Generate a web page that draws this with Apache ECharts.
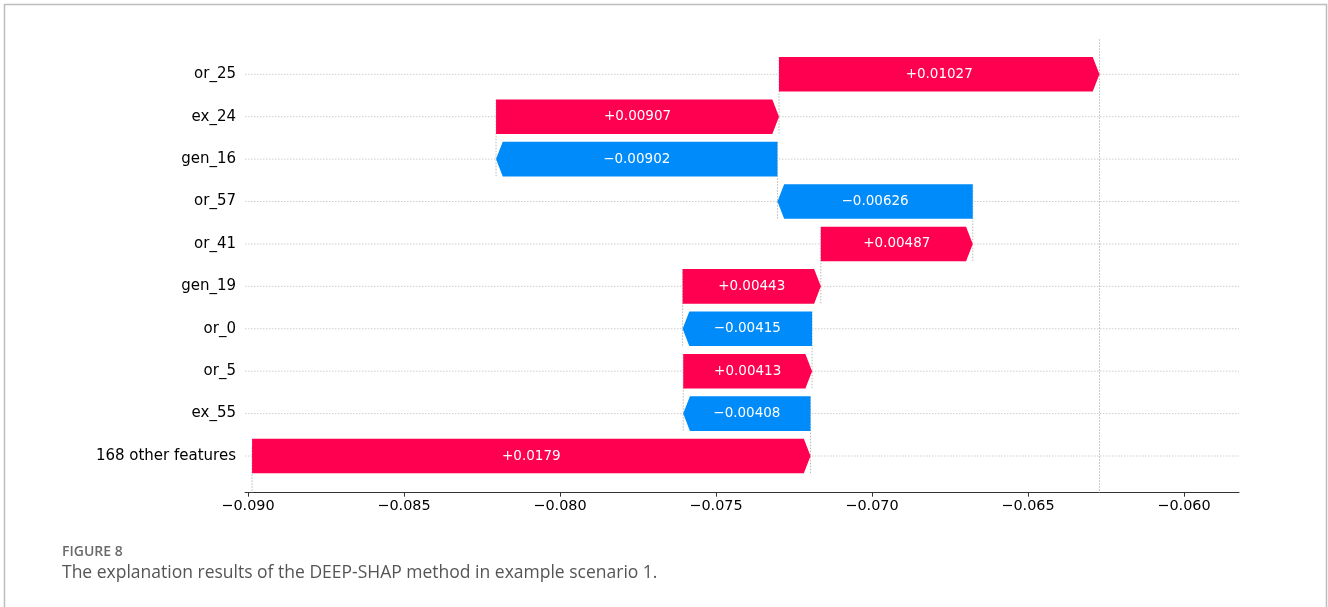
<!DOCTYPE html>
<html>
<head>
<meta charset="utf-8">
<script src="https://cdn.jsdelivr.net/npm/echarts@6/dist/echarts.min.js"></script>
<style>
  html, body { margin: 0; padding: 0; background: #fff; }
  #chart { width: 1328px; height: 607px; }
</style>
</head>
<body>
<div id="chart"></div>
<script>
// rows from top to bottom
var features = ['or_25', 'ex_24', 'gen_16', 'or_57', 'or_41', 'gen_19', 'or_0', 'or_5', 'ex_55', '168 other features'];
// shap value of each row
var shapValues = [0.01027, 0.00907, -0.00902, -0.00626, 0.00487, 0.00443, -0.00415, 0.00413, -0.00408, 0.0179];
// E[f(X)]
var baseValue = -0.08987;
var xTicks = [-0.090, -0.085, -0.080, -0.075, -0.070, -0.065, -0.060];

var posColor = '#ff0051';
var negColor = '#008bfb';
var xMin = -0.090096, xMax = -0.058237;
var yMin = -0.825, yMax = 9.865;
var barHeight = 0.815;
var headPx = 6.7;

// waterfall, accumulated from the bottom row upwards
var starts = [], ends = [];
var run = baseValue;
for (var i = features.length - 1; i >= 0; i--) {
  starts[i] = run;
  run += shapValues[i];
  ends[i] = run;
}
var fx = run;

var barData = features.map(function (f, i) {
  return [starts[i], ends[i], i, shapValues[i]];
});

// dotted guides: [x, yFrom, yTo]
var guideData = [];
for (var i = 0; i < features.length - 1; i++) {
  guideData.push([starts[i], i - 0.4, i + 1 + 0.4]);
}
guideData.push([fx, yMin, yMax]);
guideData.push([baseValue, yMax - (yMax - yMin) / features.length, yMax]);

var rowData = features.map(function (f, i) { return [xMin, xMax, i]; });

function fmtShap(v) {
  return v > 0 ? '+' + v : '\u2212' + Math.abs(v);
}

function renderBar(params, api) {
  var x0 = api.value(0), x1 = api.value(1), row = api.value(2), v = api.value(3);
  var a = api.coord([x0, row]);
  var b = api.coord([x1, row]);
  var h = api.size([0, barHeight])[1];
  var dir = b[0] >= a[0] ? 1 : -1;
  var head = Math.min(headPx, Math.abs(b[0] - a[0]));
  var top = a[1] - h / 2, bot = a[1] + h / 2;
  var pts = [[a[0], top], [b[0] - dir * head, top], [b[0], a[1]], [b[0] - dir * head, bot], [a[0], bot]];
  return {
    type: 'group',
    children: [{
      type: 'polygon',
      shape: { points: pts },
      style: { fill: v > 0 ? posColor : negColor }
    }, {
      type: 'text',
      style: {
        text: fmtShap(v),
        x: (a[0] + b[0]) / 2,
        y: a[1],
        align: 'center',
        verticalAlign: 'middle',
        fill: '#fff',
        fontSize: 13.5,
        fontFamily: 'DejaVu Sans'
      }
    }]
  };
}

function renderGuide(params, api) {
  var p0 = api.coord([api.value(0), api.value(1)]);
  var p1 = api.coord([api.value(0), api.value(2)]);
  return {
    type: 'line',
    shape: { x1: p0[0], y1: p0[1], x2: p1[0], y2: p1[1] },
    style: { stroke: '#b8b8b8', lineWidth: 1, lineDash: [1.5, 1.5] }
  };
}

function renderRow(params, api) {
  var p0 = api.coord([api.value(0), api.value(2)]);
  var p1 = api.coord([api.value(1), api.value(2)]);
  return {
    type: 'line',
    shape: { x1: p0[0], y1: p0[1], x2: p1[0], y2: p1[1] },
    style: { stroke: '#cdcdcd', lineWidth: 1, lineDash: [1.5, 1.5] }
  };
}

var chart = echarts.init(document.getElementById('chart'));
chart.setOption({
  animation: false,
  backgroundColor: '#fff',
  grid: { left: 245, right: 89, top: 39.3, bottom: 114.3 },
  xAxis: {
    type: 'value',
    min: xMin,
    max: xMax,
    axisLine: { show: true, onZero: false, lineStyle: { color: '#333', width: 1 } },
    axisTick: { show: true, length: 4, customValues: xTicks, lineStyle: { color: '#333' } },
    axisLabel: {
      customValues: xTicks,
      margin: 7,
      color: '#000',
      fontSize: 14.4,
      fontFamily: 'DejaVu Sans',
      formatter: function (v) { return '\u2212' + Math.abs(v).toFixed(3); }
    },
    splitLine: { show: false }
  },
  yAxis: {
    type: 'value',
    inverse: true,
    min: yMin,
    max: yMax,
    axisLine: { show: false, onZero: false },
    axisTick: { show: false },
    splitLine: { show: false },
    axisLabel: {
      customValues: features.map(function (f, i) { return i; }),
      margin: 9,
      color: '#000',
      fontSize: 15,
      fontFamily: 'DejaVu Sans',
      formatter: function (v) { return features[Math.round(v)]; }
    }
  },
  series: [{
    type: 'custom',
    name: 'rows',
    z: 1,
    renderItem: renderRow,
    encode: { x: [0, 1], y: 2 },
    data: rowData,
    silent: true
  }, {
    type: 'custom',
    name: 'guides',
    z: 1,
    renderItem: renderGuide,
    encode: { x: 0, y: [1, 2] },
    data: guideData,
    silent: true
  }, {
    type: 'custom',
    name: 'shap',
    z: 2,
    renderItem: renderBar,
    encode: { x: [0, 1], y: 2 },
    data: barData
  }],
  graphic: [{
    type: 'rect',
    shape: { x: 4.5, y: 4.5, width: 1322, height: 700 },
    style: { fill: null, stroke: '#bdbdbd', lineWidth: 1.5 },
    silent: true
  }, {
    type: 'text',
    left: 62,
    top: 545,
    style: { text: 'FIGURE 8', fill: '#6a6a6a', fontSize: 14, fontWeight: 600, fontFamily: 'Open Sans' }
  }, {
    type: 'text',
    left: 62,
    top: 564,
    style: {
      text: 'The explanation results of the DEEP-SHAP method in example scenario 1.',
      fill: '#555', fontSize: 17.5, fontFamily: 'Open Sans'
    }
  }]
});
</script>
</body>
</html>
